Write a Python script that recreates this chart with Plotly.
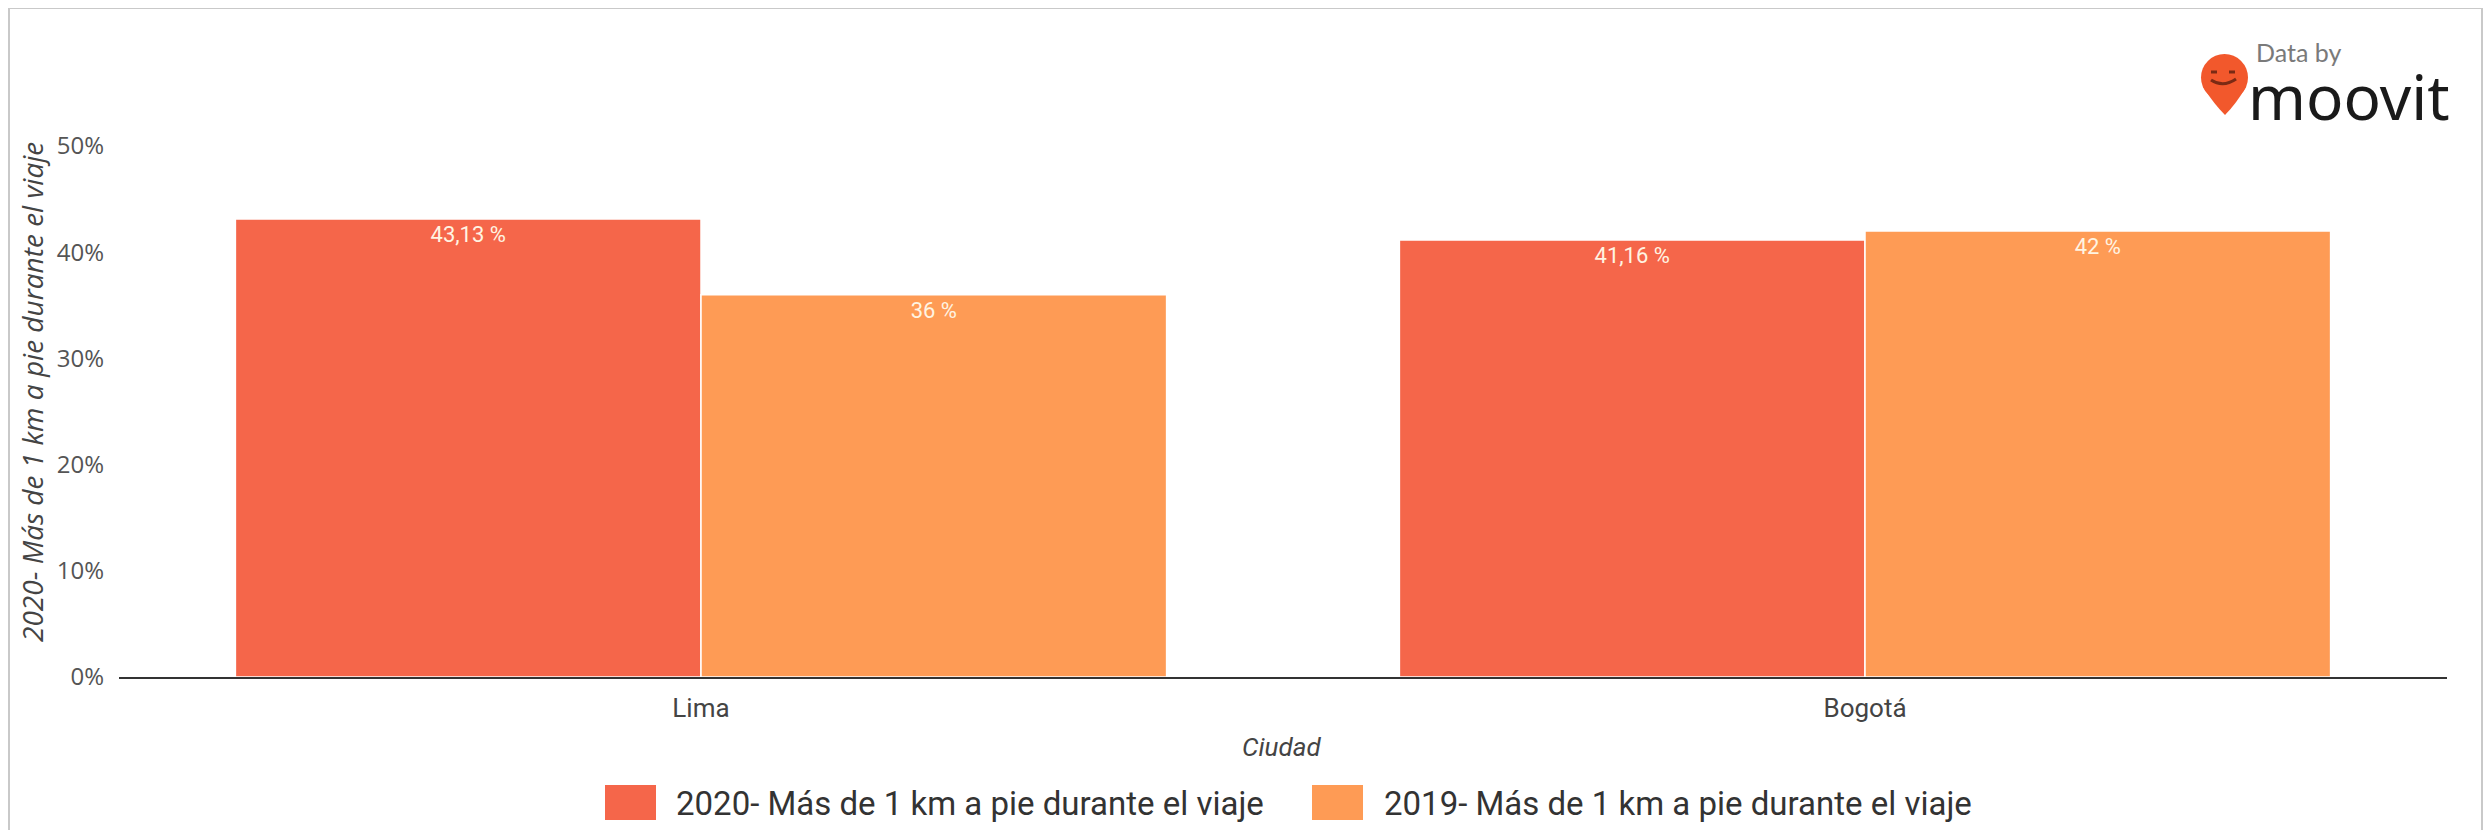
import plotly.graph_objects as go

# Data
cities = ["Lima", "Bogotá"]
series_names = ["2020- Más de 1 km a pie durante el viaje",
                "2019- Más de 1 km a pie durante el viaje"]
values_2020 = [43.13, 41.16]
values_2019 = [36, 42]
labels_2020 = ["43,13 %", "41,16 %"]
labels_2019 = ["36 %", "42 %"]
colors = ["#F5664A", "#FE9B55"]
y_ticks = [0, 10, 20, 30, 40, 50]
y_tick_text = ["0%", "10%", "20%", "30%", "40%", "50%"]

# page has an 8px body margin, so the figure is drawn 8px in from the corner
OFF = 8
W, H = 2491 - 2 * OFF, 838 - 2 * OFF
# plot area in screen pixels
L, R, T, B = 119, 2447, 146, 677


def px(x):
    return (x - L) / (R - L)


def py(y):
    return (B - y) / (B - T)


narrow = "Liberation Sans Narrow, Roboto, sans-serif"
wide = "Open Sans, Noto Sans, sans-serif"

fig = go.Figure()
for name, vals, labs, col in [(series_names[0], values_2020, labels_2020, colors[0]),
                              (series_names[1], values_2019, labels_2019, colors[1])]:
    fig.add_trace(go.Bar(
        x=cities, y=vals, name=name, text=labs,
        textposition="inside", insidetextanchor="end", textangle=0,
        textfont=dict(family=narrow, size=22, color="#FFF4E2"),
        marker=dict(color=col, line=dict(color="white", width=1.5)),
        showlegend=False, hoverinfo="skip",
    ))

shapes = []
# outer frame
for x0, y0, x1, y1 in [(9, 8, 9, 838), (9, 8, 2482, 8), (2482, 8, 2482, 838)]:
    shapes.append(dict(type="line", xref="paper", yref="paper",
                       x0=px(x0), y0=py(y0), x1=px(x1), y1=py(y1),
                       line=dict(color="#C9C9C9", width=2)))

# custom legend
legend_items = [(605, 656, 674), (1312, 1363, 1382)]
annotations = []
for (sx0, sx1, tx), name, col in zip(legend_items, series_names, colors):
    shapes.append(dict(type="rect", xref="paper", yref="paper",
                       x0=px(sx0), x1=px(sx1), y0=py(785), y1=py(820),
                       fillcolor=col, line=dict(width=0)))
    annotations.append(dict(text=name, xref="paper", yref="paper",
                            x=px(tx), y=py(803), xanchor="left", yanchor="middle",
                            showarrow=False,
                            font=dict(family=narrow, size=33, color="#333333")))

# moovit logo: pin
pin = "#F2582C"
shapes.append(dict(type="circle", xref="paper", yref="paper",
                   x0=px(2201), x1=px(2248), y0=py(54), y1=py(101),
                   fillcolor=pin, line=dict(width=0)))
shapes.append(dict(type="path", xref="paper", yref="paper",
                   path=f"M {px(2203)} {py(87)} Q {px(2214)} {py(104)} {px(2225)} {py(115)} "
                        f"Q {px(2236)} {py(104)} {px(2246)} {py(87)} Z",
                   fillcolor=pin, line=dict(width=0)))
for ex in (2214, 2232):
    shapes.append(dict(type="line", xref="paper", yref="paper",
                       x0=px(ex - 3), x1=px(ex + 3), y0=py(72), y1=py(72),
                       line=dict(color="#7A2A14", width=3)))
shapes.append(dict(type="path", xref="paper", yref="paper",
                   path=f"M {px(2211)} {py(80)} Q {px(2223)} {py(88)} {px(2236)} {py(79)}",
                   line=dict(color="#7A2A14", width=3)))

annotations += [
    dict(text="Data by", xref="paper", yref="paper", x=px(2254), y=py(52),
         xanchor="left", yanchor="middle", showarrow=False,
         font=dict(family="Lato, sans-serif", size=25, color="#7A7A7A")),
    dict(text="moovit", xref="paper", yref="paper", x=px(2246), y=py(96),
         xanchor="left", yanchor="middle", showarrow=False,
         font=dict(family="Noto Sans, sans-serif", size=62, color="#1A1A1A")),
    dict(text="<i>2020- Más de 1 km a pie durante el viaje</i>", xref="paper", yref="paper",
         x=px(32), y=py(392), xanchor="center", yanchor="middle", textangle=-90,
         showarrow=False, font=dict(family=wide, size=28, color="#444444")),
    dict(text="<i>Ciudad</i>", xref="paper", yref="paper", x=px(1281), y=py(747),
         xanchor="center", yanchor="middle", showarrow=False,
         font=dict(family=narrow, size=26, color="#444444")),
]

fig.update_layout(
    width=W, height=H,
    margin=dict(l=L - OFF, r=(OFF + W) - R, t=T - OFF, b=(OFF + H) - B, pad=0),
    paper_bgcolor="white", plot_bgcolor="white",
    barmode="group", bargap=0.2, bargroupgap=0,
    xaxis=dict(range=[-0.5, 1.5], showgrid=False, showline=True,
               linecolor="#333333", linewidth=2, ticks="", ticklabelstandoff=7,
               tickfont=dict(family=narrow, size=26, color="#444444")),
    yaxis=dict(range=[0, 50], tickvals=y_ticks, ticktext=y_tick_text, showgrid=False,
               zeroline=False, showline=False, ticks="", ticklabelstandoff=14,
               tickfont=dict(family=wide, size=24, color="#555555")),
    shapes=shapes, annotations=annotations,
)

fig.write_html("out.html")
